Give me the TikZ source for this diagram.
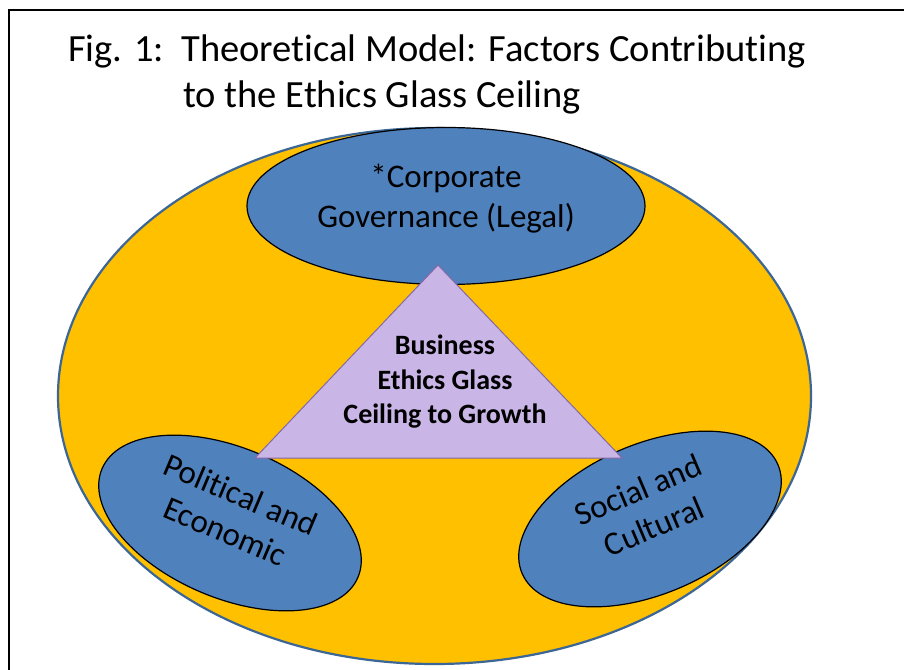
\documentclass[tikz,border=0pt]{standalone}
\usepackage{fontspec}
\setmainfont{Carlito}[Ligatures={NoCommon}]
\usetikzlibrary{shapes.geometric}
\definecolor{oro}{HTML}{FFC000}
\definecolor{borde}{HTML}{3B6696}
\definecolor{azul}{HTML}{4F81BD}
\definecolor{lila}{HTML}{C9B5E6}
\definecolor{lilaborde}{HTML}{8468A8}

\begin{document}
\begin{tikzpicture}[x=1pt, y=-1pt]

\tikzset{
  fondo/.style={ellipse, draw=borde, line width=2.2pt, fill=oro,
    minimum width=753pt, minimum height=536pt},
  factor/.style={ellipse, draw=black, line width=1.2pt, fill=azul,
    inner sep=0pt},
  rotulo/.style={text centered, align=center, inner sep=0pt,
    font=\fontsize{33}{40}\selectfont},
  techo/.style={draw=lilaborde, fill=lila, line width=1pt},
  titulo/.style={anchor=base west, inner sep=0pt,
    font=\fontsize{38.5}{46}\selectfont}
}

% ---- FRAME ----
\useasboundingbox (0,0) rectangle (904,669);
\clip (0,0) rectangle (904,669);
\fill[white] (0,0) rectangle (904,669);
\draw[line width=2pt] (9,10) rectangle (930,700);

% ---- TITLE ----
\node (tit1) [titulo] at (68,61)
  {Fig. 1:\ \ Theoretical Model: Factors Contributing};
\node (tit2) [titulo] at (183,107)
  {to the Ethics Glass Ceiling};

% ---- OUTER ELLIPSE ----
\node (fondo) [fondo] at (434.5,396) {};

% ---- FACTORS ----
\node (legal)  [factor, minimum width=398pt, minimum height=157pt]
  at (446,206) {};
\node (polit)  [factor, minimum width=278pt, minimum height=150pt, rotate=-23]
  at (230,523) {};
\node (social) [factor, minimum width=278pt, minimum height=150pt, rotate=23]
  at (650,519) {};

\node (legaltxt)  [rotulo]            at (446,199) {*Corporate\\Governance (Legal)};
\node (polittxt)  [rotulo, rotate=-23] at (233,513) {Political and\\Economic};
\node (socialtxt) [rotulo, rotate=23]  at (646,508) {Social and\\Cultural};

% ---- CENTRAL TRIANGLE ----
\coordinate (cima) at (438,265);
\coordinate (izq)  at (255,458);
\coordinate (der)  at (622,458);
\begin{scope}[shift={(1,2)}]
  \fill[black, opacity=0.3] (cima) -- (der) -- (izq) -- cycle;
\end{scope}
\draw[techo] (cima) -- (der) -- (izq) -- cycle;
\node (nucleo) [align=center, inner sep=0pt,
  font=\bfseries\fontsize{28}{34.5}\selectfont]
  at (445,382) {Business\\Ethics Glass\\Ceiling to Growth};

\end{tikzpicture}
\end{document}
